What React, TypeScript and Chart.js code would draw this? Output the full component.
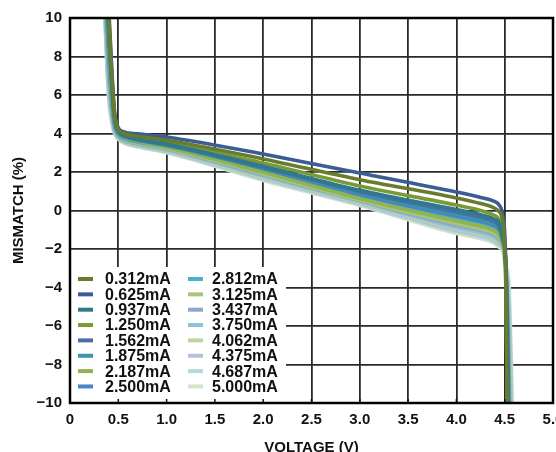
import { useEffect, useRef } from "react";
import { Chart, registerables } from "chart.js";

Chart.register(...registerables);

// Shared voltage grid (V) for every current curve
const VOLTAGE = [0.32, 0.36, 0.40, 0.43, 0.46, 0.50, 0.56, 0.70, 1.0, 2.0, 3.0, 4.0, 4.25, 4.38, 4.44, 4.48, 4.51, 4.54, 4.57, 4.60];

// Mismatch (%) per load current
const M_0312 = [17.8, 13.6, 10.3, 7.3, 5.05, 4.22, 4.0, 3.86, 3.65, 2.68, 1.6, 0.65, 0.36, 0.16, -0.05, -0.6, -3.5, -16, -30, -40];
const M_0625 = [18, 14, 10.6, 7.6, 5.2, 4.3, 4.08, 3.98, 3.82, 2.93, 1.95, 0.96, 0.68, 0.5, 0.3, -0.3, -2.6, -15, -30, -40];
const M_0937 = [17.5, 13.2, 9.8, 7.0, 4.9, 4.15, 3.92, 3.72, 3.45, 2.3, 1.05, 0.05, -0.22, -0.42, -0.65, -1.4, -2.6, -12, -30, -40];
const M_1250 = [17.6, 13.4, 10.0, 7.1, 4.95, 4.18, 3.95, 3.78, 3.55, 2.47, 1.27, 0.28, 0.0, -0.22, -0.45, -1.1, -3.2, -15, -30, -40];
const M_1562 = [17.2, 13, 9.4, 6.7, 4.8, 4.1, 3.88, 3.68, 3.42, 2.24, 0.98, -0.08, -0.35, -0.55, -0.78, -1.5, -2.65, -11, -28, -40];
const M_1875 = [17, 12.7, 9.0, 6.4, 4.7, 4.05, 3.85, 3.65, 3.38, 2.18, 0.9, -0.2, -0.47, -0.67, -0.9, -1.55, -2.7, -10, -26, -38];
const M_2187 = [16.8, 12.4, 8.6, 6.1, 4.6, 4.0, 3.8, 3.6, 3.28, 1.98, 0.62, -0.55, -0.82, -1.02, -1.25, -1.7, -2.7, -9, -24, -36];
const M_2500 = [16.6, 12.1, 8.2, 5.9, 4.5, 3.97, 3.77, 3.58, 3.33, 2.1, 0.8, -0.3, -0.57, -0.77, -1.0, -1.6, -2.7, -8.5, -22, -34];
const M_2812 = [16.4, 11.8, 7.8, 5.7, 4.4, 3.93, 3.73, 3.55, 3.3, 2.05, 0.72, -0.42, -0.69, -0.89, -1.12, -1.65, -2.75, -8, -20, -32];
const M_3125 = [16.2, 11.5, 7.4, 5.5, 4.35, 3.9, 3.68, 3.5, 3.22, 1.9, 0.55, -0.68, -0.95, -1.15, -1.38, -1.8, -2.75, -7, -18, -30];
const M_3437 = [16, 11.2, 7.1, 5.3, 4.28, 3.86, 3.64, 3.46, 3.18, 1.84, 0.5, -0.78, -1.05, -1.25, -1.48, -1.85, -2.8, -6.5, -16, -28];
const M_3750 = [15.8, 10.9, 6.8, 5.15, 4.2, 3.82, 3.6, 3.42, 3.14, 1.78, 0.45, -0.88, -1.15, -1.35, -1.58, -1.9, -2.8, -6, -14, -26];
const M_4062 = [15.6, 10.6, 6.5, 5.0, 4.15, 3.79, 3.57, 3.38, 3.1, 1.72, 0.4, -0.96, -1.23, -1.43, -1.66, -1.95, -2.85, -5, -12, -24];
const M_4375 = [15.4, 10.4, 6.2, 4.85, 4.1, 3.76, 3.54, 3.35, 3.07, 1.66, 0.35, -1.04, -1.31, -1.51, -1.74, -2.0, -2.85, -4.5, -10, -20];
const M_4687 = [15.2, 10.2, 6.0, 4.72, 4.05, 3.73, 3.52, 3.32, 3.03, 1.61, 0.3, -1.12, -1.39, -1.59, -1.82, -2.05, -2.9, -4, -9, -18];
const M_5000 = [15, 10, 5.8, 4.6, 4.0, 3.7, 3.5, 3.3, 3.0, 1.56, 0.26, -1.2, -1.47, -1.67, -1.9, -2.1, -2.9, -3.5, -8, -16];

const CURRENT_LABELS = [
  "0.312mA", "0.625mA", "0.937mA", "1.250mA", "1.562mA", "1.875mA", "2.187mA", "2.500mA",
  "2.812mA", "3.125mA", "3.437mA", "3.750mA", "4.062mA", "4.375mA", "4.687mA", "5.000mA",
];
const SERIES = [
  M_0312, M_0625, M_0937, M_1250, M_1562, M_1875, M_2187, M_2500,
  M_2812, M_3125, M_3437, M_3750, M_4062, M_4375, M_4687, M_5000,
];
const COLORS = [
  "#687c30", "#3b5d94", "#2e7a8c", "#7a9a38", "#4a6ea8", "#3796a8", "#8fb450", "#4a84c4",
  "#4ab2cc", "#a6c67a", "#8ea6d0", "#8cc4d4", "#bcd4a4", "#b4c0dc", "#b4d8dc", "#d4e4c8",
];

const X_TITLE = "VOLTAGE (V)";
const Y_TITLE = "MISMATCH (%)";

const FONT_FAMILY = '"Liberation Sans", Arial, Helvetica, sans-serif';
const TEXT_COLOR = "#111";

// Inset legend (two columns) plus the heavy frame and inward bottom ticks
const insetLegend = {
  id: "insetLegend",
  afterDatasetsDraw(chart: any) {
    const { ctx, chartArea, scales } = chart;
    const xs = scales.x;
    ctx.save();
    // white panel over the grid
    ctx.fillStyle = "#fff";
    ctx.fillRect(chartArea.left, 267, 286 - chartArea.left, chartArea.bottom - 267);

    // inward tick marks on the bottom axis
    ctx.strokeStyle = "#111";
    ctx.lineWidth = 1.5;
    for (let v = 0.5; v < 5; v += 0.5) {
      const px = xs.getPixelForValue(v);
      ctx.beginPath();
      ctx.moveTo(px, chartArea.bottom);
      ctx.lineTo(px, chartArea.bottom - 4);
      ctx.stroke();
    }

    ctx.font = `bold 16px ${FONT_FAMILY}`;
    ctx.textBaseline = "middle";
    ctx.textAlign = "left";
    const rowH = 15.35;
    const top = 279;
    CURRENT_LABELS.forEach((label, i) => {
      const col = Math.floor(i / 8);
      const row = i % 8;
      const y = top + row * rowH;
      const sx = col === 0 ? 78 : 188;
      const tx = col === 0 ? 105 : 212;
      ctx.fillStyle = COLORS[i];
      ctx.fillRect(sx, y - 2, 15, 4);
      ctx.fillStyle = TEXT_COLOR;
      ctx.fillText(label, tx, y + 1);
    });

    // plot frame
    ctx.strokeStyle = "#000";
    ctx.lineWidth = 2.5;
    ctx.strokeRect(chartArea.left, chartArea.top, chartArea.right - chartArea.left, chartArea.bottom - chartArea.top);
    ctx.restore();
  },
};

export default function App() {
  const canvasRef = useRef<HTMLCanvasElement | null>(null);

  useEffect(() => {
    const canvas = canvasRef.current;
    if (!canvas) return;

    const datasets = SERIES.map((ys, i) => ({
      label: CURRENT_LABELS[i],
      data: VOLTAGE.map((v, k) => ({ x: v, y: ys[k] })),
      borderColor: COLORS[i],
      backgroundColor: COLORS[i],
      borderWidth: 3.6,
      pointRadius: 0,
      fill: false,
      cubicInterpolationMode: "monotone" as const,
    }));

    const chart = new Chart(canvas, {
      type: "line",
      data: { datasets },
      plugins: [insetLegend],
      options: {
        animation: false,
        responsive: false,
        events: [],
        layout: { padding: { top: 18, right: 3, left: 0, bottom: 0 } },
        plugins: { legend: { display: false }, tooltip: { enabled: false } },
        scales: {
          x: {
            type: "linear",
            min: 0,
            max: 5,
            afterFit(scale: any) {
              scale.height = 49;
              scale.paddingLeft = 0;
              scale.paddingRight = 0;
            },
            ticks: {
              stepSize: 0.5,
              autoSkip: false,
              maxRotation: 0,
              padding: 8,
              color: TEXT_COLOR,
              font: { family: FONT_FAMILY, size: 15, weight: "bold" },
              callback: (v: any) => (Number(v) === 0 ? "0" : Number(v).toFixed(1)),
            },
            grid: { color: "#2a2a2a", lineWidth: 1.8, drawTicks: false },
            border: { display: false },
            title: {
              display: true,
              text: X_TITLE,
              color: TEXT_COLOR,
              padding: { top: 0, bottom: -5 },
              font: { family: FONT_FAMILY, size: 15, weight: "bold" },
            },
          },
          y: {
            type: "linear",
            min: -10,
            max: 10,
            afterFit(scale: any) {
              scale.width = 70;
              scale.paddingTop = 0;
              scale.paddingBottom = 0;
            },
            ticks: {
              stepSize: 2,
              autoSkip: false,
              padding: 8,
              color: TEXT_COLOR,
              font: { family: FONT_FAMILY, size: 15, weight: "bold" },
              callback: (v: any) => String(v).replace("-", "\u2212"),
            },
            grid: { color: "#2a2a2a", lineWidth: 1.8, drawTicks: false },
            border: { display: false },
            title: {
              display: true,
              text: Y_TITLE,
              color: TEXT_COLOR,
              padding: { top: 10, bottom: 0 },
              font: { family: FONT_FAMILY, size: 15, weight: "bold" },
            },
          },
        },
      },
    });

    return () => chart.destroy();
  }, []);

  return (
    <div style={{ position: "absolute", left: 0, top: 0, width: 556, height: 452, background: "#fff" }}>
      <canvas ref={canvasRef} width={556} height={452} style={{ display: "block" }} />
    </div>
  );
}
